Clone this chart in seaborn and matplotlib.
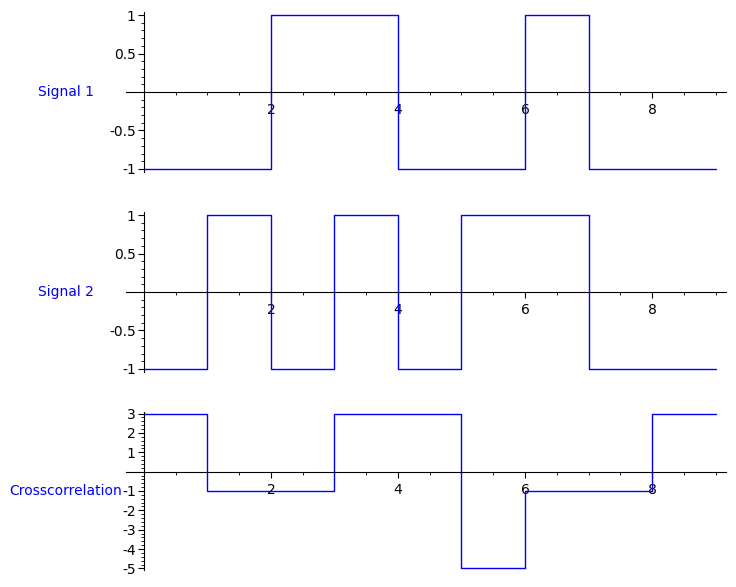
import numpy as np
import pandas as pd
import matplotlib
matplotlib.use("Agg")
import matplotlib.pyplot as plt
import seaborn as sns
from matplotlib.ticker import MultipleLocator, FixedLocator, FixedFormatter

sns.set_style("ticks")
plt.rcParams['font.family'] = ['DejaVu Sans']
plt.rcParams['axes.unicode_minus'] = False
plt.rcParams['xtick.color'] = 'black'
plt.rcParams['ytick.color'] = 'black'
plt.rcParams['axes.edgecolor'] = 'black'

# step breakpoints (value holds until the next x)
sig1_x = [0, 2, 4, 6, 7, 9]
sig1_y = [-1, 1, -1, 1, -1, -1]
sig2_x = [0, 1, 2, 3, 4, 5, 7, 9]
sig2_y = [-1, 1, -1, 1, -1, 1, -1, -1]
xcorr_x = [0, 1, 3, 5, 6, 8, 9]
xcorr_y = [3, -1, 3, -5, -1, 3, 3]

labels = ["Signal 1", "Signal 2", "Crosscorrelation"]
xticks = [2, 4, 6, 8]
yticks_sig = [-1, -0.5, 0.5, 1]
yticklabels_sig = ["-1", "-0.5", "0.5", "1"]
yticks_xc = [-5, -4, -3, -2, -1, 1, 2, 3]

fig = plt.figure(figsize=(7.36, 5.87), dpi=100)
left, width = 126 / 736, 600 / 736
boxes = [(12, 172), (212, 372), (412, 570)]
ylims = [(-1.04, 1.04), (-1.04, 1.04), (-5.08, 3.08)]
series = [(sig1_x, sig1_y), (sig2_x, sig2_y), (xcorr_x, xcorr_y)]

for i, ((top, bot), (xs, ys), lab, yl) in enumerate(zip(boxes, series, labels, ylims)):
    ax = fig.add_axes([left, 1 - bot / 587, width, (bot - top) / 587])
    df = pd.DataFrame({"x": xs, "y": ys})
    sns.lineplot(data=df, x="x", y="y", ax=ax, drawstyle="steps-post",
                 color="#0000ff", linewidth=1.0)
    ax.set_xlim(-0.283, 9.165)
    ax.set_ylim(*yl)
    ax.spines['left'].set_position(('data', 0))
    ax.spines['bottom'].set_position(('data', 0))
    ax.spines['top'].set_visible(False)
    ax.spines['right'].set_visible(False)
    ax.xaxis.set_major_locator(FixedLocator(xticks))
    ax.xaxis.set_minor_locator(MultipleLocator(0.5))
    if i < 2:
        ax.yaxis.set_major_locator(FixedLocator(yticks_sig))
        ax.yaxis.set_major_formatter(FixedFormatter(yticklabels_sig))
        ax.yaxis.set_minor_locator(MultipleLocator(0.1))
    else:
        ax.yaxis.set_major_locator(FixedLocator(yticks_xc))
        ax.yaxis.set_minor_locator(MultipleLocator(0.2))
    ax.tick_params(which='major', length=4, width=0.8, labelsize=10, pad=2,
                   colors='black')
    ax.tick_params(which='minor', length=2, width=0.6, colors='black')
    ax.tick_params(axis='x', which='major', pad=4)
    ax.set_xlabel("")
    ax.set_ylabel(lab, rotation=0, color="#0000ff", fontsize=10, ha='center', va='center')
    ax.yaxis.set_label_coords(-0.1, 0.5)
    ax.patch.set_alpha(0)

fig.savefig("out.png", dpi=100)
